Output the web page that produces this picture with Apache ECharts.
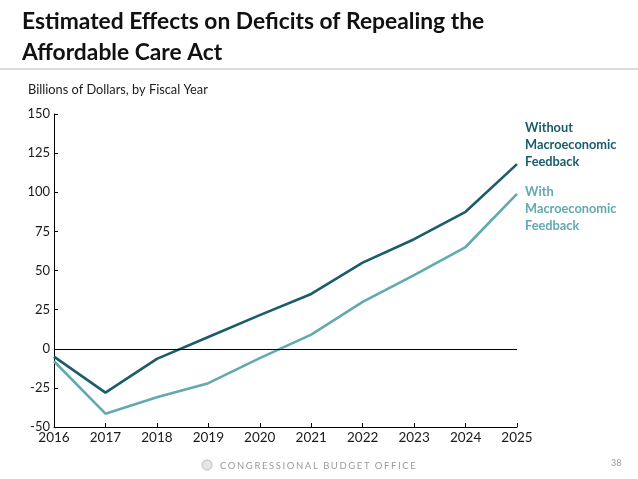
<!DOCTYPE html>
<html>
<head>
<meta charset="utf-8">
<script src="https://cdn.jsdelivr.net/npm/echarts@6/dist/echarts.min.js"></script>
<style>
html,body{margin:0;padding:0;background:#fff;}
#wrap{position:relative;width:638px;height:479px;}
#main{width:638px;height:479px;}
#footer{position:absolute;left:220px;top:460px;font:9.5px Lato,sans-serif;letter-spacing:1.6px;color:#9a9a9a;white-space:nowrap;}
</style>
</head>
<body>
<div id="wrap">
<div id="main"></div>
<div id="footer">CONGRESSIONAL BUDGET OFFICE</div>
</div>
<script>
const years = ['2016','2017','2018','2019','2020','2021','2022','2023','2024','2025'];
const withoutFeedback = [-5, -28, -6.5, 7.5, 21.5, 35, 55, 70, 87.5, 118];
const withFeedback = [-8, -41.5, -31, -22, -6, 9, 30, 47, 65, 99];
const yTicks = [-50, -25, 0, 25, 50, 75, 100, 125, 150];

const darkColor = '#1a5c6c';
const lightColor = '#62a9b0';
const FONT = 'Lato';

const chart = echarts.init(document.getElementById('main'));
chart.setOption({
  animation: false,
  backgroundColor: '#fff',
  textStyle: { fontFamily: FONT },
  grid: { left: 54, right: 121, top: 114, bottom: 52, containLabel: false },
  xAxis: {
    type: 'category',
    data: years,
    boundaryGap: false,
    axisLine: { onZero: false, lineStyle: { color: '#000', width: 1 } },
    axisTick: { inside: true, length: 4, lineStyle: { color: '#000' } },
    axisLabel: { color: '#1a1a1a', fontSize: 13.5, margin: 4, fontFamily: FONT },
    splitLine: { show: false }
  },
  yAxis: {
    type: 'value',
    min: yTicks[0],
    max: yTicks[yTicks.length - 1],
    interval: 25,
    axisLine: { show: true, lineStyle: { color: '#000', width: 1 } },
    axisTick: { show: true, inside: true, length: 4, lineStyle: { color: '#000' } },
    axisLabel: { color: '#1a1a1a', fontSize: 13, margin: 4, fontFamily: FONT },
    splitLine: { show: false }
  },
  series: [
    {
      name: 'Without Macroeconomic Feedback',
      type: 'line',
      data: withoutFeedback,
      showSymbol: false,
      lineStyle: { color: darkColor, width: 2.6 },
      itemStyle: { color: darkColor },
      z: 3,
      markLine: {
        silent: true,
        symbol: 'none',
        label: { show: false },
        lineStyle: { color: '#000', width: 1, type: 'solid' },
        data: [{ yAxis: 0 }]
      }
    },
    {
      name: 'With Macroeconomic Feedback',
      type: 'line',
      data: withFeedback,
      showSymbol: false,
      lineStyle: { color: lightColor, width: 2.6 },
      itemStyle: { color: lightColor },
      z: 2
    }
  ],
  graphic: [
    { type: 'text', left: 22, top: 6, style: { text: 'Estimated Effects on Deficits of Repealing the\nAffordable Care Act', font: 'bold 22.8px ' + FONT, fill: '#111', lineHeight: 31 } },
    { type: 'line', shape: { x1: 0, y1: 69, x2: 638, y2: 69 }, style: { stroke: '#b5b5b5', lineWidth: 1 } },
    { type: 'text', left: 28, top: 83, style: { text: 'Billions of Dollars, by Fiscal Year', font: '12.8px ' + FONT, fill: '#1a1a1a' } },
    { type: 'text', left: 525, top: 119, style: { text: 'Without\nMacroeconomic\nFeedback', font: 'bold 12.8px ' + FONT, fill: darkColor, lineHeight: 17 } },
    { type: 'text', left: 525, top: 183, style: { text: 'With\nMacroeconomic\nFeedback', font: 'bold 12.8px ' + FONT, fill: lightColor, lineHeight: 17 } },
    { type: 'circle', shape: { cx: 207, cy: 465, r: 5 }, style: { fill: '#e6e6e6', stroke: '#bdbdbd', lineWidth: 1 } },
    { type: 'text', left: 611, top: 459, style: { text: '38', font: '9px ' + FONT, fill: '#9a9a9a' } }
  ]
});
</script>
</body>
</html>
